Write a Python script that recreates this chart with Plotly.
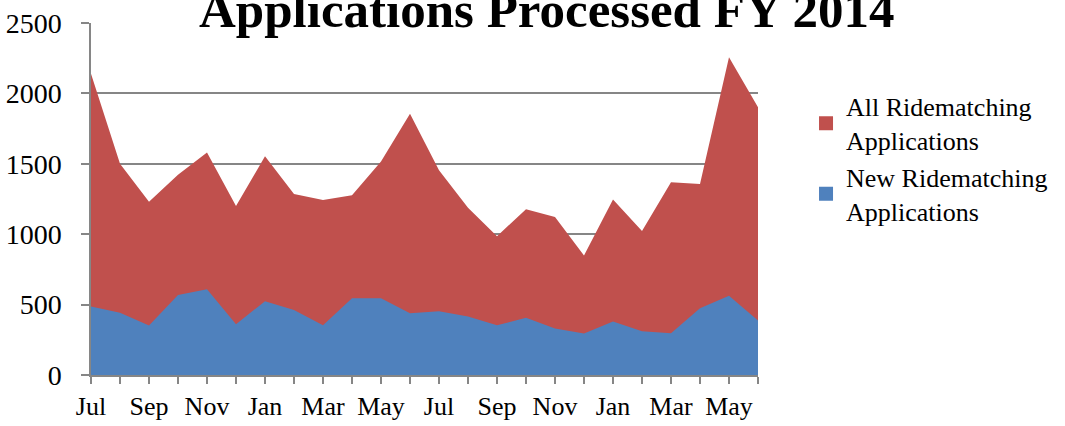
import plotly.graph_objects as go

months = ["Jul", "Aug", "Sep", "Oct", "Nov", "Dec", "Jan", "Feb", "Mar", "Apr", "May", "Jun",
          "Jul", "Aug", "Sep", "Oct", "Nov", "Dec", "Jan", "Feb", "Mar", "Apr", "May", "Jun"]
all_apps = [2140, 1500, 1230, 1423, 1580, 1200, 1553, 1286, 1243, 1277, 1517, 1855,
            1455, 1187, 986, 1177, 1123, 848, 1246, 1022, 1369, 1357, 2256, 1902]
new_apps = [486, 443, 352, 569, 609, 361, 524, 462, 354, 545, 545, 439,
            453, 415, 354, 406, 330, 295, 380, 311, 297, 474, 562, 387]
y_ticks = [0, 500, 1000, 1500, 2000, 2500]
title = "Applications Processed FY 2014"
series_names = ["All Ridematching<br>Applications", "New Ridematching<br>Applications"]

x = list(range(len(months)))
tick_text = [m if i % 2 == 0 else "" for i, m in enumerate(months)]

FONT = "Liberation Serif"
RED = "#C0504D"
BLUE = "#4F81BD"
GRID = "#868686"

fig = go.Figure()
fig.add_trace(go.Scatter(x=x, y=all_apps, mode="lines", fill="tozeroy",
                         fillcolor=RED, line=dict(color=RED, width=0),
                         name=series_names[0], showlegend=False))
fig.add_trace(go.Scatter(x=x, y=new_apps, mode="lines", fill="tozeroy",
                         fillcolor=BLUE, line=dict(color=BLUE, width=0),
                         name=series_names[1], showlegend=False))
# legend entries with square swatches
for name, col in zip(series_names, [RED, BLUE]):
    fig.add_trace(go.Scatter(x=[None], y=[None], mode="markers",
                             marker=dict(symbol="square", size=14, color=col),
                             name=name, showlegend=True))

fig.update_layout(
    width=1065, height=426,
    margin=dict(l=91, r=307, t=23, b=51),
    paper_bgcolor="white", plot_bgcolor="white",
    font=dict(family=FONT, size=26, color="black"),
    showlegend=True,
    legend=dict(x=1.072, y=0.83, xanchor="left", yanchor="top",
                font=dict(family=FONT, size=26, color="black"),
                itemwidth=30, traceorder="normal",
                bgcolor="rgba(0,0,0,0)"),
    xaxis=dict(range=[0, len(months) - 1], tickmode="array", tickvals=x, ticktext=tick_text,
               showgrid=False, zeroline=False, showline=True, linecolor=GRID, linewidth=1.5,
               ticks="outside", ticklen=7, tickcolor=GRID, tickwidth=1.5,
               tickfont=dict(family=FONT, size=26), fixedrange=True, automargin=False),
    yaxis=dict(range=[0, 2500], tickmode="array", tickvals=y_ticks,
               showgrid=True, gridcolor=GRID, gridwidth=1.5, zeroline=False,
               showline=True, linecolor=GRID, linewidth=1.5,
               ticks="outside", ticklen=8, tickcolor=GRID, tickwidth=1.5,
               ticklabelstandoff=14,
               tickfont=dict(family=FONT, size=28), fixedrange=True, automargin=False),
    annotations=[dict(text="<b>" + title + "</b>", xref="paper", yref="paper",
                      x=0.684, y=0.952, xanchor="center", yanchor="bottom",
                      showarrow=False, font=dict(family=FONT, size=51, color="black"))],
)

fig.write_html("out.html", post_script="document.body.style.margin='0';",
               config={"displayModeBar": False})
